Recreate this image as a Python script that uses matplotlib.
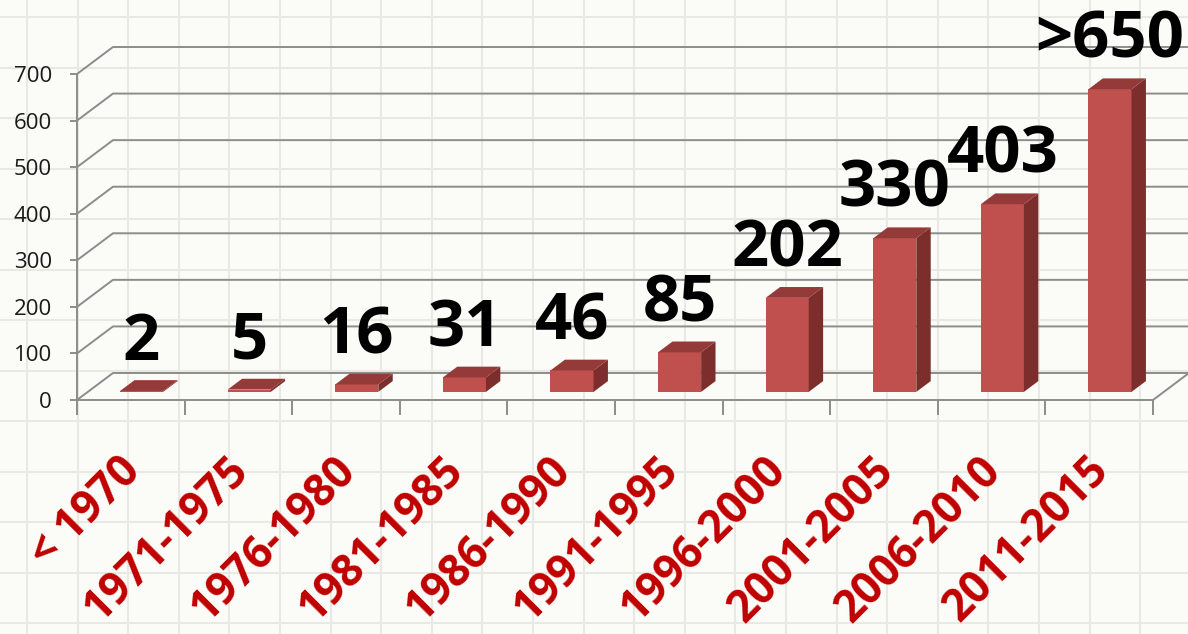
import numpy as np
import matplotlib.pyplot as plt
from matplotlib.patches import Polygon

# data
periods = ['< 1970', '1971-1975', '1976-1980', '1981-1985', '1986-1990',
           '1991-1995', '1996-2000', '2001-2005', '2006-2010', '2011-2015']
counts = [2, 5, 16, 31, 46, 85, 202, 330, 403, 650]
count_labels = ['2', '5', '16', '31', '46', '85', '202', '330', '403', '>650']
y_ticks = [0, 100, 200, 300, 400, 500, 600, 700]

# style
front_col = '#c0504d'
top_col = '#943a39'
side_col = '#7c2e2d'
grid_col = '#8c8c8c'
label_red = '#c00000'
bg_col = '#fbfbf7'

W, H = 1188, 634
fig = plt.figure(figsize=(W / 100, H / 100), dpi=100, facecolor=bg_col)

# faint graph paper in the background
bg = fig.add_axes([0, 0, 1, 1])
bg.set_xlim(0, W)
bg.set_ylim(H, 0)
bg.axis('off')
for gx in np.arange(27, W, 50.6):
    bg.axvline(gx, color='#e9e9e3', lw=1.5, zorder=0)
for gy in np.arange(17, H, 50.5):
    bg.axhline(gy, color='#e9e9e3', lw=1.5, zorder=0)

# front plane of the 3d chart
ax = fig.add_axes([77 / W, 234 / H, 1076 / W, 326 / H])
ax.set_xlim(0, len(periods))
ax.set_ylim(0, 700)
ax.patch.set_alpha(0)

# depth of the floor in data units
DX = 36 / (1076 / len(periods))
DY = 27 / (326 / 700)
d0, d1 = 0.3, 0.7
bar_w = 0.4

# gridlines (side wall diagonal + back wall)
n = len(periods)
for v in y_ticks:
    ax.plot([0, DX, n + DX], [v, v + DY, v + DY], color=grid_col, lw=1.4,
            clip_on=False, zorder=1)
ax.plot([n, n + DX], [0, DY], color=grid_col, lw=1.4, clip_on=False, zorder=1)

# bars
for i, v in enumerate(counts):
    x0 = i + 0.5 - bar_w / 2 + d0 * DX
    x1 = x0 + bar_w
    y0 = d0 * DY
    bdx = (d1 - d0) * DX
    bdy = (d1 - d0) * DY
    front = [(x0, y0), (x1, y0), (x1, y0 + v), (x0, y0 + v)]
    top = [(x0, y0 + v), (x1, y0 + v), (x1 + bdx, y0 + v + bdy), (x0 + bdx, y0 + v + bdy)]
    side = [(x1, y0), (x1 + bdx, y0 + bdy), (x1 + bdx, y0 + v + bdy), (x1, y0 + v)]
    for pts, c in [(front, front_col), (side, side_col), (top, top_col)]:
        ax.add_patch(Polygon(pts, closed=True, facecolor=c, edgecolor='none',
                             clip_on=False, zorder=3))
    ax.text(i + 0.5 + d0 * DX, v + d1 * DY + 44, count_labels[i],
            ha='center', va='baseline', fontsize=47, fontweight='bold',
            family='Open Sans', color='black', zorder=5)

# category labels
for i, p in enumerate(periods):
    ax.text(i + 0.53, -138, p, rotation=45, ha='right', va='center',
            rotation_mode='anchor', fontsize=31.5, fontweight='bold',
            family='Open Sans', color=label_red)

# axes styling
for s in ['top', 'right']:
    ax.spines[s].set_visible(False)
for s in ['left', 'bottom']:
    ax.spines[s].set_color(grid_col)
    ax.spines[s].set_linewidth(1.4)
ax.set_yticks(y_ticks)
ax.set_yticklabels([str(t) for t in y_ticks], family='Open Sans', fontsize=16,
                   color='#1a1a1a')
ax.set_xticks(np.arange(0, n + 1))
ax.set_xticklabels([])
ax.tick_params(axis='y', direction='out', length=5, width=1.4, color=grid_col, pad=13)
ax.tick_params(axis='x', direction='out', length=11, width=1.4, color=grid_col)

fig.savefig('out.png', dpi=100, facecolor=bg_col)
